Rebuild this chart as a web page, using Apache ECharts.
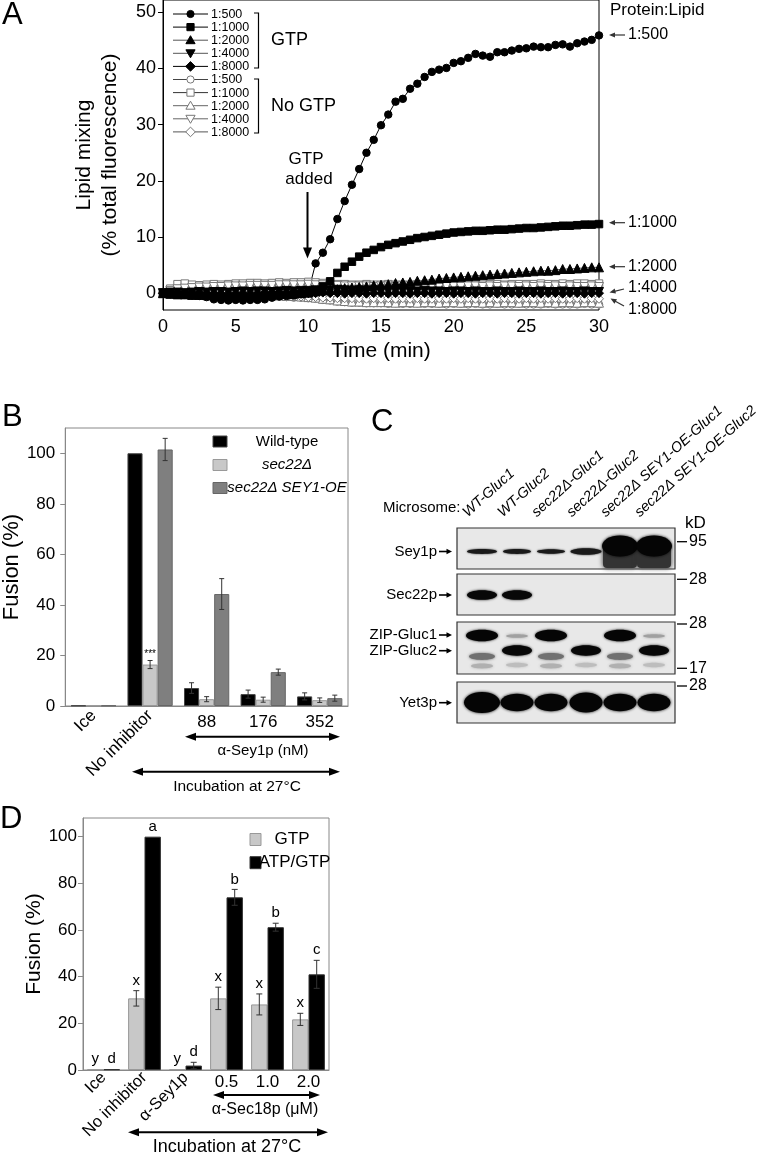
<!DOCTYPE html>
<html><head><meta charset="utf-8">
<script src="https://cdn.jsdelivr.net/npm/echarts@6/dist/echarts.min.js"></script>
<style>html,body{margin:0;padding:0;background:#fff}#c{width:764px;height:1154px}</style>
</head><body><div id="c"></div>
<script>
const FONT = "'Liberation Sans', Arial, Helvetica, sans-serif";

// ---------- Panel A data ----------
const timesA = [0,0.5,1,1.5,2,2.5,3,3.5,4,4.5,5,5.5,6,6.5,7,7.5,8,8.5,9,9.5,10,10.5,11,11.5,12,12.5,13,13.5,14,14.5,15,15.5,16,16.5,17,17.5,18,18.5,19,19.5,20,20.5,21,21.5,22,22.5,23,23.5,24,24.5,25,25.5,26,26.5,27,27.5,28,28.5,29,29.5,30];
const gtp500 = [0,-0.1,-0.2,-0.3,-0.4,-0.5,-0.7,-1.1,-1.2,-1.3,-1.2,-1.3,-1.2,-1.2,-1.1,-0.8,-0.6,-0.5,-0.4,-0.2,0.2,
  5.3,7.2,9.6,13.2,16.4,19.3,22.1,25.0,27.3,29.9,31.8,34.1,34.6,36.4,37.3,38.5,39.4,39.8,40.1,41.0,
  41.3,41.9,42.6,42.3,42.1,42.9,42.9,43.2,43.5,43.6,43.9,43.8,43.8,44.2,44.3,43.9,44.5,44.8,45.1,45.9];
const gtp1000 = [0,-0.2,-0.3,-0.3,-0.4,-0.4,-0.5,-0.5,-0.6,-0.6,-0.5,-0.5,-0.6,-0.5,-0.4,-0.4,-0.3,-0.3,-0.2,-0.1,0.0,
  0.5,1.2,2.1,3.6,4.7,5.6,6.5,7.2,7.7,8.2,8.6,8.9,9.2,9.5,9.8,10.0,10.2,10.4,10.6,10.8,
  10.9,11.0,11.1,11.1,11.2,11.3,11.3,11.4,11.5,11.6,11.6,11.7,11.8,11.9,12.0,12.0,12.1,12.2,12.2,12.3];
const gtp2000 = [0,-0.1,-0.2,-0.2,-0.3,-0.3,-0.3,-0.4,-0.4,-0.3,-0.3,-0.4,-0.3,-0.3,-0.2,-0.2,-0.1,-0.1,0.0,0.0,0.1,
  0.3,0.5,0.6,0.7,0.9,1.0,1.1,1.2,1.4,1.5,1.6,1.8,1.9,2.0,2.2,2.3,2.4,2.6,2.7,2.8,
  2.9,3.0,3.1,3.2,3.3,3.4,3.5,3.6,3.7,3.8,3.9,4.0,4.0,4.1,4.3,4.3,4.4,4.5,4.6,4.6];
const gtp4000 = [0,0.1,0.1,0.0,0.1,0.2,0.1,0.2,0.2,0.1,0.2,0.3,0.2,0.3,0.3,0.2,0.3,0.4,0.3,0.4,0.4,
  0.5,0.4,0.5,0.6,0.5,0.4,0.5,0.4,0.5,0.4,0.4,0.3,0.4,0.3,0.3,0.4,0.3,0.3,0.2,0.3,
  0.3,0.2,0.3,0.2,0.2,0.3,0.2,0.2,0.3,0.2,0.2,0.3,0.2,0.2,0.3,0.2,0.2,0.3,0.2,0.2];
const gtp8000 = [0,-0.1,-0.1,-0.2,-0.1,-0.2,-0.2,-0.3,-0.2,-0.3,-0.3,-0.2,-0.3,-0.2,-0.2,-0.1,-0.2,-0.1,-0.1,0.0,0.0,
  0.0,0.1,0.0,0.0,-0.1,0.0,0.0,-0.1,0.0,0.0,-0.1,0.0,0.0,-0.1,0.0,0.0,-0.1,0.0,0.0,-0.1,
  0.0,0.0,-0.1,0.0,0.0,-0.1,0.0,0.0,-0.1,0.0,0.0,-0.1,0.0,0.0,-0.1,0.0,0.0,-0.1,0.0,0.0];
const noGtp500 = [0,0.0,-0.1,-0.1,-0.2,-0.2,-0.3,-0.3,-0.3,-0.4,-0.4,-0.4,-0.5,-0.5,-0.5,-0.6,-0.6,-0.7,-0.8,-0.8,-0.9,
  -1.0,-1.2,-1.3,-1.5,-1.6,-1.7,-1.7,-1.8,-1.8,-1.8,-1.9,-1.8,-1.9,-1.9,-1.8,-1.9,-1.9,-1.9,-2.0,-1.9,
  -1.9,-2.0,-1.9,-2.0,-2.0,-1.9,-2.0,-2.0,-1.9,-2.0,-2.0,-2.0,-1.9,-2.0,-2.0,-2.0,-2.0,-1.9,-2.0,-2.0];
const noGtp1000 = [0,0.8,1.6,1.7,1.5,1.4,1.5,1.6,1.5,1.6,1.7,1.7,1.8,1.8,1.7,1.8,1.9,1.8,1.9,1.9,2.0,
  1.9,1.8,1.7,1.6,1.6,1.5,1.5,1.6,1.5,1.5,1.6,1.5,1.5,1.5,1.6,1.5,1.5,1.6,1.5,1.5,
  1.6,1.6,1.5,1.5,1.6,1.6,1.5,1.6,1.6,1.6,1.6,1.7,1.6,1.6,1.7,1.6,1.7,1.7,1.6,1.7];
const noGtp2000 = [0,0.0,0.1,0.0,0.0,-0.1,0.0,-0.1,-0.1,-0.2,-0.2,-0.2,-0.3,-0.3,-0.3,-0.4,-0.4,-0.5,-0.5,-0.6,-0.7,
  -0.8,-1.0,-1.1,-1.3,-1.4,-1.5,-1.5,-1.6,-1.6,-1.6,-1.6,-1.7,-1.6,-1.6,-1.7,-1.6,-1.6,-1.7,-1.6,-1.6,
  -1.7,-1.6,-1.6,-1.7,-1.6,-1.7,-1.6,-1.6,-1.7,-1.6,-1.6,-1.7,-1.6,-1.7,-1.6,-1.6,-1.7,-1.6,-1.6,-1.7];
const noGtp4000 = [0,0.4,0.7,0.8,0.9,1.0,1.0,1.1,1.1,1.2,1.2,1.2,1.3,1.3,1.3,1.3,1.4,1.4,1.4,1.4,1.5,
  1.4,1.4,1.3,1.3,1.2,1.2,1.2,1.2,1.1,1.2,1.2,1.1,1.2,1.2,1.1,1.2,1.2,1.1,1.2,1.2,
  1.1,1.2,1.2,1.1,1.2,1.1,1.2,1.2,1.1,1.2,1.1,1.2,1.1,1.2,1.1,1.2,1.1,1.1,1.2,1.1];
const noGtp8000 = [0,-0.1,-0.1,-0.2,-0.2,-0.2,-0.3,-0.3,-0.3,-0.3,-0.4,-0.4,-0.4,-0.5,-0.5,-0.5,-0.5,-0.6,-0.6,-0.6,-0.7,
  -0.7,-0.8,-0.8,-0.9,-0.9,-0.9,-0.9,-1.0,-0.9,-1.0,-0.9,-1.0,-0.9,-1.0,-0.9,-1.0,-1.0,-0.9,-1.0,-0.9,
  -1.0,-0.9,-1.0,-1.0,-0.9,-1.0,-0.9,-1.0,-1.0,-0.9,-1.0,-0.9,-1.0,-0.9,-1.0,-1.0,-0.9,-1.0,-0.9,-1.0];
const ratioLabels = ['1:500','1:1000','1:2000','1:4000','1:8000'];
const xTicksA = [0,5,10,15,20,25,30];
const yTicksA = [0,10,20,30,40,50];

// ---------- Panel B data ----------
const catsB = ['Ice','No inhibitor','88','176','352'];
const namesB = ['Wild-type','sec22Δ','sec22Δ SEY1-OE'];
const wtB = [0.2,100,7.1,4.7,3.8];
const wtErrB = [0,0,2.1,1.6,1.4];
const sec22B = [0.2,16.4,2.7,2.5,2.3];
const sec22ErrB = [0,1.6,1.0,1.0,0.9];
const oeB = [0.2,101.5,44.3,13.4,3.1];
const oeErrB = [0,4.4,6.1,1.2,1.2];
const sigB = ['','***','','',''];
const yTicksB = [0,20,40,60,80,100];

// ---------- Panel C labels ----------
const laneLabels = ['WT-Gluc1','WT-Gluc2','sec22Δ-Gluc1','sec22Δ-Gluc2','sec22Δ SEY1-OE-Gluc1','sec22Δ SEY1-OE-Gluc2'];
const blotRows = ['Sey1p','Sec22p','ZIP-Gluc1','ZIP-Gluc2','Yet3p'];
const kdMarks = ['95','28','28','17','28'];

// ---------- Panel D data ----------
const catsD = ['Ice','No inhibitor','α-Sey1p','0.5','1.0','2.0'];
const namesD = ['GTP','ATP/GTP'];
const gtpD = [0.3,30.7,0.3,30.7,28.1,21.7];
const gtpErrD = [0,3.3,0,4.8,4.5,2.6];
const atpD = [0.3,100,1.9,74.0,61.2,41.0];
const atpErrD = [0,0,1.4,3.4,1.7,6.0];
const lettersGtpD = ['y','x','y','x','x','x'];
const lettersAtpD = ['d','a','d','b','b','c'];
const yTicksD = [0,20,40,60,80,100];

// ---------- helpers ----------
const G = [];
function txt(x, y, text, size, o) {
  o = o || {};
  return {type:'text', x:x, y:y, rotation:o.rot||0, z:100, silent:true,
    style:{text:text, fill:o.color||'#000', fontSize:size, fontFamily:FONT,
      fontStyle:o.italic?'italic':'normal', fontWeight:'normal',
      align:o.align||'left', textAlign:o.align||'left',
      verticalAlign:o.va||'middle', textVerticalAlign:o.va||'middle'}};
}
function line(x1,y1,x2,y2,col,lw){return {type:'line',z:100,silent:true,shape:{x1:x1,y1:y1,x2:x2,y2:y2},style:{stroke:col||'#000',lineWidth:lw||1}};}
function arrow(x1,y1,x2,y2,o){
  o=o||{}; const lw=o.lw||1, hl=o.hl||8, hw=o.hw||3, col=o.color||'#000';
  const dx=x2-x1, dy=y2-y1, L=Math.hypot(dx,dy), ux=dx/L, uy=dy/L;
  const bx=x2-ux*hl, by=y2-uy*hl;
  const sx=o.both?x1+ux*(hl-1):x1, sy=o.both?y1+uy*(hl-1):y1;
  const els=[line(sx,sy,bx+ux,by+uy,col,lw)];
  els.push({type:'polygon',z:100,silent:true,shape:{points:[[x2,y2],[bx-uy*hw,by+ux*hw],[bx+uy*hw,by-ux*hw]]},style:{fill:col}});
  if(o.both){const cx=x1+ux*hl, cy=y1+uy*hl;
    els.push({type:'polygon',z:100,silent:true,shape:{points:[[x1,y1],[cx-uy*hw,cy+ux*hw],[cx+uy*hw,cy-ux*hw]]},style:{fill:col}});}
  return els;
}
function marker(kind,cx,cy,fill,stroke){
  const st={fill:fill,stroke:stroke,lineWidth:1};
  if(kind==='circle') return {type:'circle',z:101,shape:{cx:cx,cy:cy,r:3.6},style:st};
  if(kind==='rect') return {type:'rect',z:101,shape:{x:cx-3.6,y:cy-3.6,width:7.2,height:7.2},style:st};
  if(kind==='up') return {type:'polygon',z:101,shape:{points:[[cx,cy-4.5],[cx+4.6,cy+3.5],[cx-4.6,cy+3.5]]},style:st};
  if(kind==='down') return {type:'polygon',z:101,shape:{points:[[cx,cy+4.5],[cx+4.6,cy-3.5],[cx-4.6,cy-3.5]]},style:st};
  return {type:'polygon',z:101,shape:{points:[[cx,cy-4.8],[cx+4.8,cy],[cx,cy+4.8],[cx-4.8,cy]]},style:st};
}

// ---------- Panel A series ----------
const kinds = ['circle','rect','up','down','diamond'];
const echSym = {circle:'circle',rect:'rect',up:'triangle',down:'triangle',diamond:'diamond'};
const symSize = {circle:7.5,rect:7.5,up:9,down:9,diamond:9};
const gtpSets = [gtp500,gtp1000,gtp2000,gtp4000,gtp8000];
const noSets = [noGtp500,noGtp1000,noGtp2000,noGtp4000,noGtp8000];
const gtpLine = ['#000','#000','#555','#555','#000'];
const noLine = ['#444','#333','#666','#666','#555'];
const seriesA = [];
function lineSeries(name, vals, kind, fill, stroke, lcol){
  return {type:'line', name:name, xAxisIndex:0, yAxisIndex:0, data:timesA.map((t,i)=>[t,vals[i]]),
    symbol:echSym[kind], symbolRotate:kind==='down'?180:0, symbolSize:symSize[kind], showSymbol:true,
    lineStyle:{color:lcol,width:1}, itemStyle:{color:fill,borderColor:stroke,borderWidth:1}, silent:true};
}
noSets.forEach((v,k)=>seriesA.push(lineSeries('No GTP '+ratioLabels[k], v, kinds[k], '#fff', '#777', noLine[k])));
for (let k=4;k>=0;k--) seriesA.push(lineSeries('GTP '+ratioLabels[k], gtpSets[k], kinds[k], '#000', '#000', gtpLine[k]));

// Panel A legend (drawn)
for (let e=0;e<10;e++){
  const y = 14 + e*13.1, k = e%5, filled = e<5;
  G.push(line(173,y,208,y, filled?gtpLine[k]:noLine[k], 1));
  G.push(marker(kinds[k],190.5,y, filled?'#000':'#fff', filled?'#000':'#777'));
  G.push(txt(211,y+0.5,ratioLabels[k],12.5));
}
G.push({type:'polyline',z:100,shape:{points:[[254,13],[258.5,13],[258.5,68],[254,68]]},style:{stroke:'#000',fill:null,lineWidth:1.2}});
G.push({type:'polyline',z:100,shape:{points:[[254,79],[258.5,79],[258.5,133],[254,133]]},style:{stroke:'#000',fill:null,lineWidth:1.2}});
G.push(txt(271,40,'GTP',18));
G.push(txt(271,106,'No GTP',18));
// GTP added
G.push(txt(306,159,'GTP',17,{align:'center'}));
G.push(txt(309,179.5,'added',17,{align:'center'}));
G.push(...arrow(307.5,192,307.5,258.5,{lw:2,hl:11,hw:4.5}));
// right side labels
G.push(txt(610,10,'Protein:Lipid',17));
[['1:500',35,35,35],['1:1000',222.7,222.7,222.7],['1:2000',266.7,266.7,266.7]].forEach(a=>{
  G.push(...arrow(625,a[1],609,a[2],{lw:1.2,hl:6,hw:2.6,color:'#333'}));
  G.push(txt(628,a[3],a[0],16));
});
G.push(...arrow(624,289,609.5,292.5,{lw:1.2,hl:6,hw:2.6,color:'#333'}));
G.push(txt(628,287.5,'1:4000',16));
G.push(...arrow(624,306,610.5,298.5,{lw:1.2,hl:6,hw:2.6,color:'#333'}));
G.push(txt(628,310,'1:8000',16));

// Panel letters
G.push(txt(2,15,'A',31));
G.push(txt(2,417,'B',31));
G.push(txt(371,422,'C',31));
G.push(txt(0,819,'D',31));

// ---------- Panel B legend & annotations ----------
const colB = ['#000','#c8c8c8','#7f7f7f'];
const edgeB = ['#444','#999','#666'];
[441.5,465,488].forEach((y,s)=>{
  G.push({type:'rect',z:100,shape:{x:213,y:y-5.5,width:14,height:11},style:{fill:colB[s],stroke:edgeB[s],lineWidth:1}});
  G.push(txt(287,y,namesB[s],15,{align:'center',italic:s>0}));
});
G.push(...arrow(185,736.7,340,736.7,{lw:2,hl:11,hw:4,both:true}));
G.push(txt(263,751,'α-Sey1p (nM)',15,{align:'center'}));
G.push(...arrow(132,771.7,340,771.7,{lw:2,hl:11,hw:4,both:true}));
G.push(txt(237,787,'Incubation at 27°C',15.5,{align:'center'}));

// ---------- Panel D legend & annotations ----------
const colD = ['#c8c8c8','#000'];
const edgeD = ['#999','#333'];
[839.5,862.7].forEach((y,s)=>{
  G.push({type:'rect',z:100,shape:{x:250,y:y-6,width:11,height:12},style:{fill:colD[s],stroke:edgeD[s],lineWidth:1}});
  G.push(txt(s===0?292:294.5,y,namesD[s],17,{align:'center'}));
});
G.push(...arrow(213,1095,320,1095,{lw:2,hl:11,hw:4,both:true}));
G.push(txt(265,1110,'α-Sec18p (μM)',16,{align:'center'}));
G.push(...arrow(128,1132.3,328,1132.3,{lw:2,hl:11,hw:4,both:true}));
G.push(txt(227,1147,'Incubation at 27°C',18,{align:'center'}));

// ---------- Panel C (blot) ----------
const laneX = [482,517,551,586,620,654];
const panelsC = [[528,569],[574,615],[622,674],[682,723]];
panelsC.forEach(p=>G.push({type:'rect',z:90,shape:{x:457,y:p[0],width:218,height:p[1]-p[0]},style:{fill:'#e8e8e8',stroke:'#333',lineWidth:1.2}}));
function band(cx,cy,rx,ry,col,blur){
  return {type:'ellipse',z:95,silent:true,shape:{cx:cx,cy:cy,rx:rx,ry:ry},style:{fill:col,shadowBlur:blur==null?3:blur,shadowColor:col}};
}
// Sey1p
[[2.4,15],[2.4,14],[2.2,14],[3.2,15.5]].forEach((b,i)=>G.push(band(laneX[i],551.5,b[1],b[0],'#1a1a1a',2)));
[4,5].forEach(i=>{
  G.push({type:'rect',z:94,silent:true,shape:{x:laneX[i]-17,y:547,width:34,height:21,r:4},style:{fill:'#333',shadowBlur:5,shadowColor:'#333'}});
  G.push(band(laneX[i],546,18,10.5,'#050505',3));
});
// Sec22p
[0,1].forEach(i=>G.push(band(laneX[i],595,15,4.8,'#080808',2.5)));
// ZIP
[0,2,4].forEach(i=>{G.push(band(laneX[i],635.5,16,5.8,'#050505',2.5)); G.push(band(laneX[i],656.5,13,3.4,'#707070',3)); G.push(band(laneX[i],666,11,2.4,'#b0b0b0',3));});
[1,5].forEach(i=>G.push(band(laneX[i],636,11,1.8,'#a0a0a0',3)));
[1,3,5].forEach(i=>{G.push(band(laneX[i],650.5,15,5.2,'#080808',2.5)); G.push(band(laneX[i],665,11,2.2,'#bdbdbd',3));});
// Yet3p
laneX.forEach((x,i)=>G.push(band(x,702.5,i===0?18:16.5,i===0?10.5:(i===3?10:8.8),'#050505',3)));
// lane labels
laneLabels.forEach((l,i)=>G.push(txt(laneX[i]-12,520,l,14.5,{italic:true,va:'bottom',rot:42*Math.PI/180})));
G.push(txt(383,507.5,'Microsome:',15));
// row labels
[[blotRows[0],551.5],[blotRows[1],595],[blotRows[2],635],[blotRows[3],650.7],[blotRows[4],702.7]].forEach(r=>{
  G.push(txt(437,r[1],r[0],15,{align:'right'}));
  G.push(...arrow(439,r[1],452,r[1],{lw:1.6,hl:5.5,hw:2.8}));
});
// kD markers
G.push(txt(685,523,'kD',17));
[541.7,579.3,624,668.3,686].forEach((y,i)=>{G.push(line(677,y,687,y,'#000',1.3)); G.push(txt(689,y,kdMarks[i],16));});

// ---------- error bar custom series ----------
function errSeries(xIdx,yIdx,groups,capHalf,labelCfg){
  const n = groups.length, data=[];
  groups.forEach((g,s)=>g.vals.forEach((v,i)=>data.push([i, v+g.errs[i], s, v, g.errs[i]])));
  return {type:'custom', xAxisIndex:xIdx, yAxisIndex:yIdx, z:10, silent:true, encode:{x:0,y:1}, data:data,
    renderItem:function(params,api){
      const i=api.value(0), s=api.value(2), v=api.value(3), e=api.value(4);
      const cw=api.size([1,0])[0], bw=cw*0.8/n;
      const x=api.coord([i,0])[0]-cw*0.4+(s+0.5)*bw;
      const yTop=api.coord([i,v+e])[1], yBot=api.coord([i,Math.max(v-e,0)])[1];
      const ch=[];
      if(e>0){
        ch.push({type:'line',shape:{x1:x,y1:yTop,x2:x,y2:yBot},style:{stroke:'#333',lineWidth:1}});
        ch.push({type:'line',shape:{x1:x-capHalf,y1:yTop,x2:x+capHalf,y2:yTop},style:{stroke:'#333',lineWidth:1}});
        ch.push({type:'line',shape:{x1:x-capHalf,y1:yBot,x2:x+capHalf,y2:yBot},style:{stroke:'#333',lineWidth:1}});
      }
      const lab=groups[s].labels[i];
      if(lab) ch.push({type:'text',x:x,y:yTop-labelCfg.dy,style:{text:lab,fill:'#000',fontSize:labelCfg.size,fontFamily:FONT,align:'center',textAlign:'center',verticalAlign:labelCfg.va,textVerticalAlign:labelCfg.va}});
      return {type:'group',children:ch};
    }};
}
const none5 = ['','','','',''];
const barCommon = {type:'bar', barCategoryGap:'20%', barGap:'0%', silent:true};

const rotB = ['Ice','No inhibitor'];
const rotD = ['Ice','No inhibitor','α-Sey1p'];

const option = {
  animation:false,
  textStyle:{fontFamily:FONT},
  grid:[
    {left:163, top:0, width:436, height:310, show:true, borderColor:'#000', borderWidth:1, backgroundColor:'transparent'},
    {left:61, top:428, width:287, height:278, show:true, borderColor:'#888', borderWidth:1},
    {left:83, top:818, width:246, height:252, show:true, borderColor:'#888', borderWidth:1}
  ],
  xAxis:[
    {gridIndex:0, type:'value', min:0, max:30, interval:5, axisLine:{show:true,lineStyle:{color:'#000'}},
      axisTick:{show:true,length:5,lineStyle:{color:'#000'},customValues:xTicksA},
      axisLabel:{fontSize:18,color:'#000',margin:8,customValues:xTicksA}, splitLine:{show:false},
      name:'Time (min)', nameLocation:'middle', nameGap:31, nameTextStyle:{fontSize:21,color:'#000'}},
    {gridIndex:1, type:'category', data:catsB, position:'bottom', axisLine:{lineStyle:{color:'#888'}}, axisTick:{show:false},
      axisLabel:{interval:0, rotate:45, fontSize:17, color:'#000', margin:7, formatter:v=>rotB.includes(v)?v:''}},
    {gridIndex:1, type:'category', data:catsB, position:'bottom', axisLine:{show:false}, axisTick:{show:false},
      axisLabel:{interval:0, fontSize:17, color:'#000', margin:8, formatter:v=>rotB.includes(v)?'':v}},
    {gridIndex:2, type:'category', data:catsD, position:'bottom', axisLine:{lineStyle:{color:'#888'}}, axisTick:{show:false},
      axisLabel:{interval:0, rotate:45, fontSize:16.5, color:'#000', margin:5, formatter:v=>rotD.includes(v)?v:''}},
    {gridIndex:2, type:'category', data:catsD, position:'bottom', axisLine:{show:false}, axisTick:{show:false},
      axisLabel:{interval:0, fontSize:17, color:'#000', margin:4, formatter:v=>rotD.includes(v)?'':v}}
  ],
  yAxis:[
    {gridIndex:0, type:'value', min:-3, max:52.2, axisLine:{show:true,lineStyle:{color:'#000'}},
      axisTick:{show:true,length:5,lineStyle:{color:'#000'},customValues:yTicksA},
      axisLabel:{fontSize:18,color:'#000',margin:7,customValues:yTicksA}, splitLine:{show:false},
      name:'Lipid mixing\n(% total fluorescence)', nameLocation:'middle', nameGap:40,
      nameTextStyle:{fontSize:21,color:'#000',lineHeight:26}},
    {gridIndex:1, type:'value', min:0, max:110, axisLine:{show:true,lineStyle:{color:'#888'}},
      axisTick:{show:true,length:5,lineStyle:{color:'#888'},customValues:yTicksB},
      axisLabel:{fontSize:17,color:'#000',margin:10,customValues:yTicksB}, splitLine:{show:false},
      name:'Fusion (%)', nameLocation:'middle', nameGap:34, nameTextStyle:{fontSize:22,color:'#000'}},
    {gridIndex:2, type:'value', min:0, max:108, axisLine:{show:true,lineStyle:{color:'#888'}},
      axisTick:{show:true,length:5,lineStyle:{color:'#888'},customValues:yTicksD},
      axisLabel:{fontSize:17,color:'#000',margin:6,customValues:yTicksD}, splitLine:{show:false},
      name:'Fusion (%)', nameLocation:'middle', nameGap:37, nameTextStyle:{fontSize:21,color:'#000'}}
  ],
  series: seriesA.concat([
    Object.assign({name:namesB[0], xAxisIndex:1, yAxisIndex:1, data:wtB, itemStyle:{color:colB[0],borderColor:edgeB[0],borderWidth:1}}, barCommon),
    Object.assign({name:namesB[1], xAxisIndex:1, yAxisIndex:1, data:sec22B, itemStyle:{color:colB[1],borderColor:edgeB[1],borderWidth:1}}, barCommon),
    Object.assign({name:namesB[2], xAxisIndex:1, yAxisIndex:1, data:oeB, itemStyle:{color:colB[2],borderColor:edgeB[2],borderWidth:1}}, barCommon),
    errSeries(1,1,[{vals:wtB,errs:wtErrB,labels:none5},{vals:sec22B,errs:sec22ErrB,labels:sigB},{vals:oeB,errs:oeErrB,labels:none5}],2.5,{dy:1,size:10,va:'bottom'}),
    Object.assign({name:namesD[0], xAxisIndex:3, yAxisIndex:2, data:gtpD, itemStyle:{color:colD[0],borderColor:edgeD[0],borderWidth:1}}, barCommon),
    Object.assign({name:namesD[1], xAxisIndex:3, yAxisIndex:2, data:atpD, itemStyle:{color:colD[1],borderColor:edgeD[1],borderWidth:1}}, barCommon),
    errSeries(3,2,[{vals:gtpD,errs:gtpErrD,labels:lettersGtpD},{vals:atpD,errs:atpErrD,labels:lettersAtpD}],3,{dy:10,size:15,va:'middle'})
  ]),
  graphic:{elements:G}
};
const chart = echarts.init(document.getElementById('c'), null, {renderer:'canvas'});
chart.setOption(option);
</script></body></html>
